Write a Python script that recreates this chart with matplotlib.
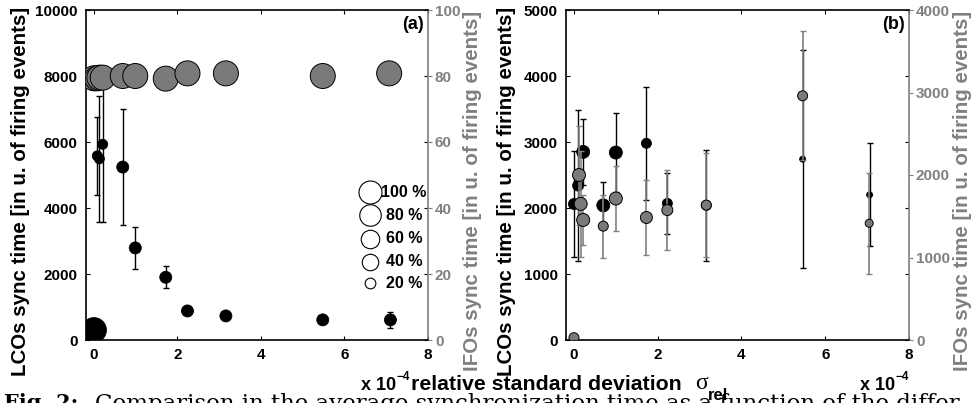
import matplotlib
matplotlib.use("Agg")
import matplotlib.pyplot as plt

# ── data: panel (a) ────────────────────────────────────────────────────────
a_lco_x = [0.0, 0.08, 0.13, 0.21, 0.69, 0.99, 1.72, 2.24, 3.16, 5.48, 7.10]
a_lco_y = [300, 5580, 5490, 5930, 5240, 2790, 1900, 880, 730, 610, 610]
a_lco_err = [0, 1190, 1910, 2345, 1750, 630, 330, 0, 0, 0, 240]
a_lco_size = [25, 10, 10, 10, 12, 12, 12, 12, 12, 12, 12]      # px diameter

a_ifo_x = [0.0, 0.08, 0.13, 0.21, 0.69, 0.99, 1.72, 2.24, 3.16, 5.48, 7.07]
a_ifo_y = [79.3, 79.3, 79.5, 79.5, 80.0, 80.0, 79.2, 80.8, 80.8, 80.0, 80.8]
a_ifo_size = [25] * 11

# ── data: panel (b) ────────────────────────────────────────────────────────
b_lco_x = [0.0, 0.10, 0.22, 0.70, 1.00, 1.73, 2.23, 3.16, 5.46, 7.06]
b_lco_y = [2060, 2340, 2850, 2040, 2840, 2980, 2070, 2040, 2740, 2200]
b_lco_err = [800, 1150, 500, 360, 600, 860, 460, 840, 1650, 780]
b_lco_size = [11, 11, 13, 13, 13, 10, 10, 10, 6, 6]

b_ifo_x = [0.0, 0.12, 0.16, 0.22, 0.70, 1.00, 1.73, 2.23, 3.16, 5.46, 7.05]
b_ifo_y = [28, 2000, 1650, 1455, 1380, 1715, 1485, 1575, 1635, 2960, 1415]
b_ifo_err = [0, 600, 640, 300, 380, 390, 460, 480, 630, 780, 610]
b_ifo_size = [10, 13, 13, 13, 10, 13, 12, 11, 10, 10, 8]

# legend of marker size vs. percentage
legend_labels = ["100 %", "80 %", "60 %", "40 %", "20 %"]
legend_size = [23, 21.5, 18.5, 16.5, 10.7]

x_ticks = [0, 2, 4, 6, 8]

GREY = "#808080"
MFACE = "#7a7a7a"
W, H = 976, 403

plt.rcParams["font.family"] = ["Liberation Sans", "DejaVu Sans"]
plt.rcParams["font.weight"] = "bold"

fig = plt.figure(figsize=(W / 100, H / 100), dpi=100)


def fx(px):
    return px / W


def fy(py):
    return 1 - py / H


def make_axes(left, right, top=10, bottom=340):
    return fig.add_axes([fx(left), fy(bottom), (right - left) / W, (bottom - top) / H])


def s_px(d):
    # scatter size in pt^2 from pixel diameter
    return (d * 0.72) ** 2


def style(ax, tw, ylim, yticks, y2lim, y2ticks):
    ax.set_xlim(-0.19, 8)
    ax.set_xticks(x_ticks)
    ax.set_xticklabels([str(t) for t in x_ticks], fontsize=11, fontweight="bold")
    ax.set_ylim(*ylim)
    ax.set_yticks(yticks)
    ax.set_yticklabels([str(t) for t in yticks], fontsize=11, fontweight="bold")
    ax.tick_params(direction="in", length=3, width=0.8, top=True, right=True,
                   pad=6, colors="black")
    for sp in ax.spines.values():
        sp.set_linewidth(1.2)
    ax.spines["right"].set_color(GREY)

    tw.set_ylim(*y2lim)
    tw.set_yticks(y2ticks)
    tw.set_yticklabels([str(t) for t in y2ticks], fontsize=11, fontweight="bold",
                       color=GREY)
    tw.tick_params(axis="y", direction="out", length=3, width=0.8, pad=2,
                   colors=GREY)
    for sp in tw.spines.values():
        sp.set_visible(False)
    tw.set_xlim(ax.get_xlim())


# ── panel (a) ──────────────────────────────────────────────────────────────
ax1 = make_axes(86, 428)
tw1 = ax1.twinx()
ax1.errorbar(a_lco_x, a_lco_y, yerr=a_lco_err, fmt="none", ecolor="black",
             elinewidth=1.0, capsize=2.3, capthick=1.0)
ax1.scatter(a_lco_x, a_lco_y, s=[s_px(d) for d in a_lco_size], c="black",
            edgecolors="black", linewidths=0.6, zorder=3)
tw1.scatter(a_ifo_x, a_ifo_y, s=[s_px(d) for d in a_ifo_size], c=MFACE,
            edgecolors="black", linewidths=0.7, zorder=3)
style(ax1, tw1, (0, 10000), [0, 2000, 4000, 6000, 8000, 10000],
      (0, 100), [0, 20, 40, 60, 80, 100])
ax1.text(0.955, 0.955, "(a)", transform=ax1.transAxes, ha="center", va="center",
         fontsize=13, fontweight="bold")

# size legend
leg_y = [192.3, 215, 238.5, 261.7, 283.3]
for lab, d, yy in zip(legend_labels, legend_size, leg_y):
    tw1.scatter([(370 - 86) / 342], [(340 - yy) / 330], s=s_px(d), c="white",
                edgecolors="black", linewidths=0.8, transform=tw1.transAxes,
                zorder=4, clip_on=False)
    tw1.text((404 - 86) / 342, (340 - yy) / 330, lab, transform=tw1.transAxes,
             ha="center", va="center", fontsize=11.5, fontweight="bold")

# ── panel (b) ──────────────────────────────────────────────────────────────
ax2 = make_axes(566, 909)
tw2 = ax2.twinx()
ax2.errorbar(b_lco_x, b_lco_y, yerr=b_lco_err, fmt="none", ecolor="black",
             elinewidth=1.0, capsize=2.3, capthick=1.0)
ax2.scatter(b_lco_x, b_lco_y, s=[s_px(d) for d in b_lco_size], c="black",
            edgecolors="black", linewidths=0.6, zorder=3)
tw2.errorbar(b_ifo_x, b_ifo_y, yerr=b_ifo_err, fmt="none", ecolor=GREY,
             elinewidth=1.2, capsize=2.3, capthick=1.0)
tw2.scatter(b_ifo_x, b_ifo_y, s=[s_px(d) for d in b_ifo_size], c=MFACE,
            edgecolors="black", linewidths=0.7, zorder=3)
style(ax2, tw2, (0, 5000), [0, 1000, 2000, 3000, 4000, 5000],
      (0, 4000), [0, 1000, 2000, 3000, 4000])
ax2.text(0.955, 0.955, "(b)", transform=ax2.transAxes, ha="center", va="center",
         fontsize=13, fontweight="bold")

# ── axis labels (placed like the original MATLAB export) ──────────────────
lco_label = "LCOs sync time [in u. of firing events]"
ifo_label = "IFOs sync time [in u. of firing events]"
for xc, lab, col in [(21, lco_label, "black"), (473, ifo_label, GREY),
                     (507, lco_label, "black"), (962, ifo_label, GREY)]:
    fig.text(fx(xc), fy(191), lab, rotation=90, ha="center", va="center",
             fontsize=14.8, fontweight="bold", color=col)

# x label with offset texts
fig.text(fx(396), fy(390), "x 10", ha="right", va="baseline", fontsize=13,
         fontweight="bold")
fig.text(fx(396.5), fy(380), "\u22124", ha="left", va="baseline", fontsize=8.5,
         fontweight="bold")
fig.text(fx(411), fy(390), "relative standard deviation", ha="left",
         va="baseline", fontsize=15.3, fontweight="bold")
fig.text(fx(695), fy(389), "\u03c3", ha="left", va="baseline", fontsize=17,
         fontweight="normal", family="Liberation Serif")
fig.text(fx(708), fy(400), "rel", ha="left", va="baseline", fontsize=12,
         fontweight="bold")
fig.text(fx(895), fy(390), "x 10", ha="right", va="baseline", fontsize=13,
         fontweight="bold")
fig.text(fx(895.5), fy(380), "\u22124", ha="left", va="baseline", fontsize=8.5,
         fontweight="bold")

# caption, cut off by the bottom edge as in the source
fig.text(fx(4), fy(393), "Fig. 2:", ha="left", va="top", fontsize=15,
         fontweight="bold", family="DejaVu Serif")
fig.text(fx(95), fy(393),
         "Comparison in the average synchronization time as a function of the differ",
         ha="left", va="top", fontsize=16.5, fontweight="normal", family="DejaVu Serif")

fig.savefig("out.png", dpi=100)
